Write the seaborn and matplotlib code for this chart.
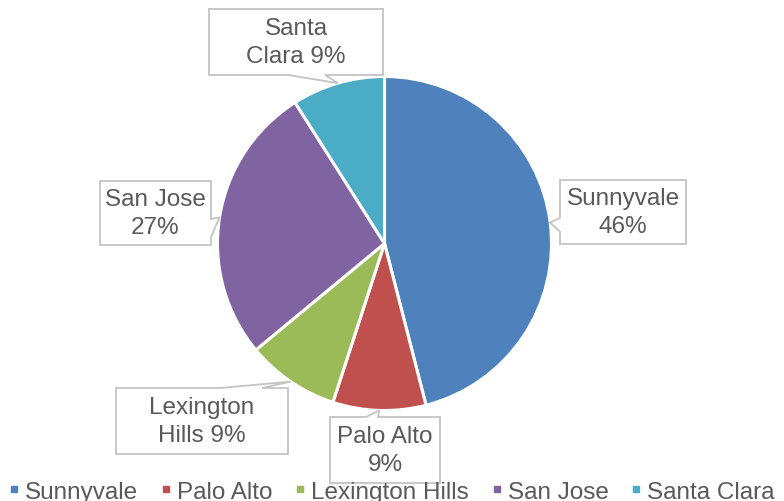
import matplotlib
matplotlib.use("Agg")
import matplotlib.pyplot as plt
import seaborn as sns
import numpy as np
from matplotlib.patches import Polygon
from matplotlib.lines import Line2D

# Share of listings per city (percent)
cities = ["Sunnyvale", "Palo Alto", "Lexington Hills", "San Jose", "Santa Clara"]
shares = [46, 9, 9, 27, 9]
label_templates = ["Sunnyvale\n{}%", "Palo Alto\n{}%", "Lexington\nHills {}%",
                   "San Jose\n{}%", "Santa\nClara {}%"]
colors = ["#4F81BD", "#C0504D", "#9BBB59", "#8064A2", "#4BACC6"]

sns.set_theme(style="white")
plt.rcParams["font.family"] = ["Liberation Sans", "DejaVu Sans"]
palette = sns.color_palette(colors)

W, H = 784, 502
fig = plt.figure(figsize=(W / 100, H / 100), dpi=100)
ax = fig.add_axes([0, 0, 1, 1])

cx, cy, R = 384.5, H - 244.5, 167
wedges, _ = ax.pie(shares, colors=palette, startangle=90, counterclock=False,
                   center=(cx, cy), radius=R,
                   wedgeprops=dict(edgecolor="white", linewidth=2.2))
ax.set_xlim(0, W)
ax.set_ylim(0, H)
ax.set_aspect("equal")
ax.axis("off")

# Callout boxes: (left, top, right, bottom) in pixel rows from the top,
# side of the box carrying the pointer, and the pointer base span.
boxes = [
    ((560, 181, 686, 245), "left", (219, 233)),
    ((330, 418, 440, 484), "top", (366, 378)),
    ((116, 389, 288, 455), "top", (220, 262)),
    ((100, 182, 211, 246), "right", (220, 238)),
    ((209, 10, 383, 76), "bottom", (288, 325)),
]

for (box, side, span), w, val, tmpl in zip(boxes, wedges, shares, label_templates):
    mid = (w.theta1 + w.theta2) / 2.0
    tip = (cx + R * np.cos(np.radians(mid)), cy + R * np.sin(np.radians(mid)))
    l, t, r, b = box
    t, b = H - t, H - b
    if side == "left":
        s0, s1 = H - span[0], H - span[1]
        pts = [(l, t), (r, t), (r, b), (l, b), (l, s1), tip, (l, s0)]
    elif side == "right":
        s0, s1 = H - span[0], H - span[1]
        pts = [(l, t), (r, t), (r, s0), tip, (r, s1), (r, b), (l, b)]
    elif side == "top":
        pts = [(l, t), (span[0], t), tip, (span[1], t), (r, t), (r, b), (l, b)]
    else:
        pts = [(l, t), (r, t), (r, b), (span[1], b), tip, (span[0], b), (l, b)]
    ax.add_patch(Polygon(pts, closed=True, facecolor="white",
                         edgecolor="#C4C4C4", linewidth=1.3, zorder=3))
    ax.text((l + r) / 2, (t + b) / 2, tmpl.format(val), ha="center", va="center",
            fontsize=17.5, color="#595959", linespacing=1.3, zorder=4)

handles = [Line2D([], [], marker="s", linestyle="none", markersize=4.5,
                  markerfacecolor=c, markeredgecolor=c) for c in palette]
fig.legend(handles, cities, loc="lower left", ncol=5, frameon=False,
           bbox_to_anchor=(10 / W, -0.003), fontsize=17.5, handlelength=0.3,
           handletextpad=0.3, columnspacing=1.0, labelcolor="#595959",
           borderaxespad=0, borderpad=0)

fig.savefig("out.png", dpi=100)
